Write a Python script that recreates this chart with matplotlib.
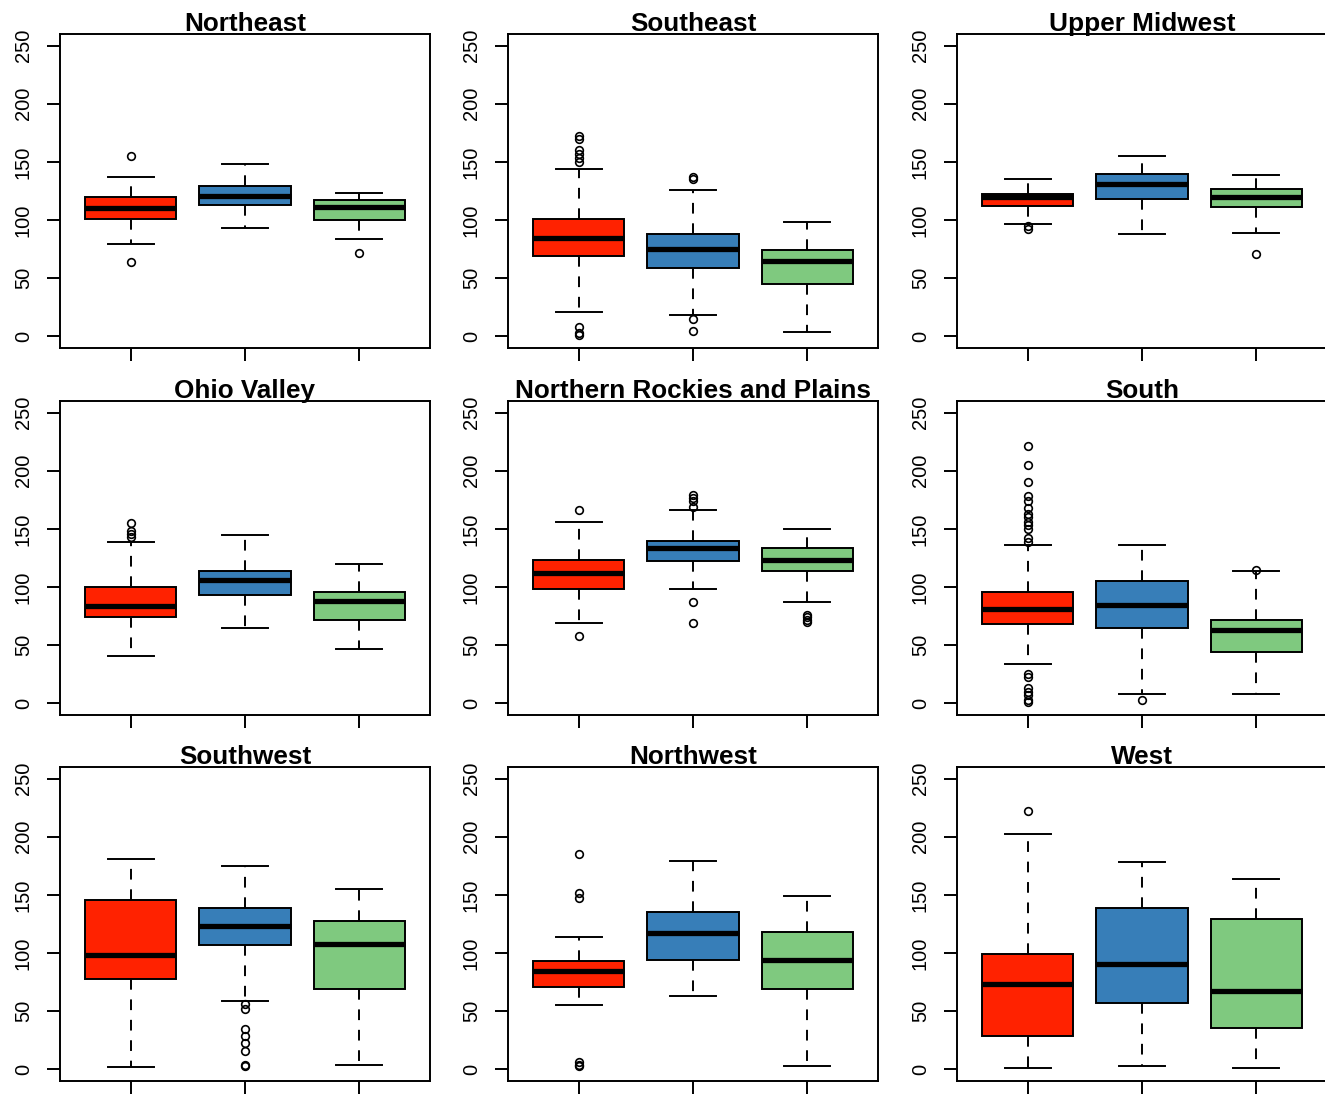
import matplotlib
matplotlib.use("Agg")
import matplotlib.pyplot as plt

plt.rcParams['font.family'] = ['Liberation Sans', 'DejaVu Sans']

regions = ["Northeast", "Southeast", "Upper Midwest",
           "Ohio Valley", "Northern Rockies and Plains", "South",
           "Southwest", "Northwest", "West"]
colors = ["#FF2200", "#377EB8", "#7FC97F"]

medians = [[110, 121, 111], [85, 75, 65], [120, 131, 120],
           [84, 106, 88], [112, 134, 123], [81, 85, 63],
           [98, 123, 108], [85, 117, 94], [73, 91, 67]]
q1 = [[101, 113, 100], [69, 59, 45], [112, 118, 111],
      [74, 93, 72], [98, 122, 114], [68, 65, 44],
      [78, 107, 69], [71, 94, 69], [29, 57, 36]]
q3 = [[120, 129, 117], [101, 88, 74], [122.5, 140, 127],
      [100, 114, 96], [123, 140, 134], [96, 105, 72],
      [146, 139, 128], [93, 135, 118], [99, 139, 129]]
whislo = [[79, 93, 84], [21, 18, 4], [97, 88, 89],
          [41, 65, 47], [69, 98, 87], [34, 8, 8],
          [2, 59, 4], [55, 63, 3], [1, 3, 1]]
whishi = [[137, 148, 123], [144, 126, 98], [135, 155, 139],
          [139, 145, 120], [156, 166, 150], [136, 136, 114],
          [181, 175, 155], [114, 179, 149], [202, 178, 164]]
outliers = [
    [[155, 64], [], [72]],
    [[172, 170, 160, 157, 153, 150, 8, 3, 1], [137, 135, 15, 5], []],
    [[95, 92], [], [71]],
    [[155, 148, 146, 143], [], []],
    [[166, 58], [179, 177, 174, 169, 87, 69], [76, 74, 72, 70]],
    [[221, 205, 190, 178, 174, 168, 163, 160, 156, 153, 150, 142, 139,
      25, 23, 13, 10, 7, 3, 1], [3], [115]],
    [[], [56, 52, 35, 29, 23, 16, 4, 3], []],
    [[185, 152, 147, 6, 4, 3], [], []],
    [[222], [], []],
]
yticks = [0, 50, 100, 150, 200, 250]

W, H = 1325, 1094
fig = plt.figure(figsize=(W / 100, H / 100), dpi=100)

col_left = [60, 508, 957]
row_top = [34, 401, 767]
aw, ah = 370, 314
lw = 1.4

for i, name in enumerate(regions):
    r, c = divmod(i, 3)
    ax = fig.add_axes([col_left[c] / W, 1 - (row_top[r] + ah) / H, aw / W, ah / H])
    stats = []
    for g in range(3):
        stats.append(dict(med=medians[i][g], q1=q1[i][g], q3=q3[i][g],
                          whislo=whislo[i][g], whishi=whishi[i][g],
                          fliers=outliers[i][g]))
    bp = ax.bxp(stats, positions=[1, 2, 3], widths=0.8, patch_artist=True,
                capwidths=0.4,
                boxprops=dict(edgecolor='black', linewidth=lw),
                medianprops=dict(color='black', linewidth=3.8, solid_capstyle='butt'),
                whiskerprops=dict(color='black', linewidth=lw, linestyle=(0, (5.5, 5))),
                capprops=dict(color='black', linewidth=lw),
                flierprops=dict(marker='o', markersize=5.5, markerfacecolor='none',
                                markeredgecolor='black', markeredgewidth=1.2))
    for patch, col in zip(bp['boxes'], colors):
        patch.set_facecolor(col)
    ax.set_xlim(0.38, 3.62)
    ax.set_ylim(-10, 260)
    ax.set_yticks(yticks)
    ax.set_yticklabels([str(t) for t in yticks], rotation=90, va='center')
    ax.set_xticks([1, 2, 3])
    ax.set_xticklabels([])
    ax.tick_params(axis='both', length=9.5, width=lw, labelsize=14.5, pad=10)
    for s in ax.spines.values():
        s.set_linewidth(lw)
    ax.annotate(name, xy=(0.5, 1.0), xycoords='axes fraction',
                xytext=(0, 3), textcoords='offset pixels',
                ha='center', va='baseline', fontsize=18.8, fontweight='bold')

fig.savefig("out.png", dpi=100)
